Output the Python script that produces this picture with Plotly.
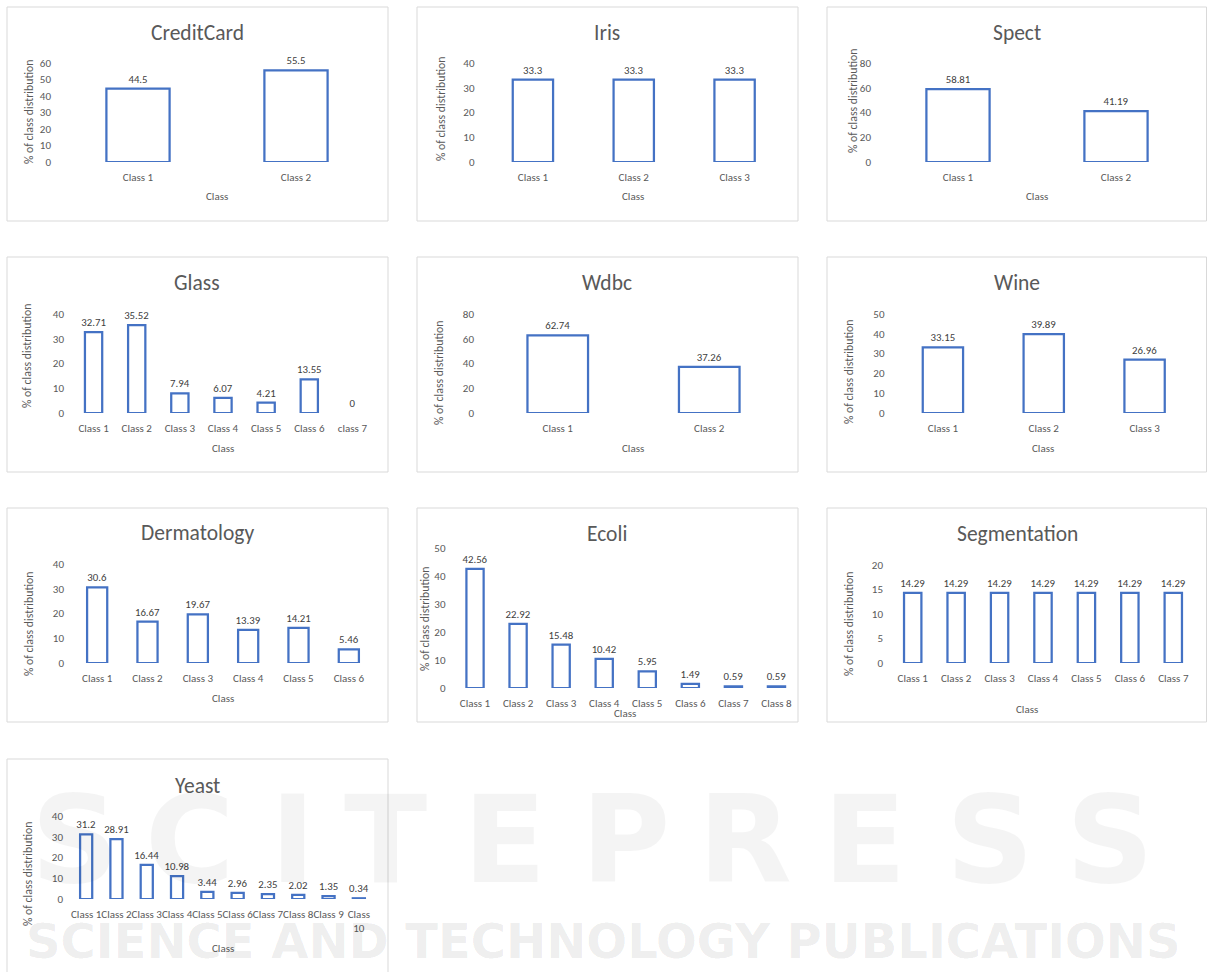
import plotly.graph_objects as go

W, H = 1207, 972

# ---------------- data: % of class distribution per dataset ----------------
creditcard_classes = ["Class 1", "Class 2"]
creditcard_pct = [44.5, 55.5]

iris_classes = ["Class 1", "Class 2", "Class 3"]
iris_pct = [33.3, 33.3, 33.3]

spect_classes = ["Class 1", "Class 2"]
spect_pct = [58.81, 41.19]

glass_classes = ["Class 1", "Class 2", "Class 3", "Class 4", "Class 5", "Class 6", "class 7"]
glass_pct = [32.71, 35.52, 7.94, 6.07, 4.21, 13.55, 0]

wdbc_classes = ["Class 1", "Class 2"]
wdbc_pct = [62.74, 37.26]

wine_classes = ["Class 1", "Class 2", "Class 3"]
wine_pct = [33.15, 39.89, 26.96]

dermatology_classes = ["Class 1", "Class 2", "Class 3", "Class 4", "Class 5", "Class 6"]
dermatology_pct = [30.6, 16.67, 19.67, 13.39, 14.21, 5.46]

ecoli_classes = ["Class 1", "Class 2", "Class 3", "Class 4", "Class 5", "Class 6", "Class 7", "Class 8"]
ecoli_pct = [42.56, 22.92, 15.48, 10.42, 5.95, 1.49, 0.59, 0.59]

segmentation_classes = ["Class 1", "Class 2", "Class 3", "Class 4", "Class 5", "Class 6", "Class 7"]
segmentation_pct = [14.29, 14.29, 14.29, 14.29, 14.29, 14.29, 14.29]

yeast_classes = ["Class 1", "Class 2", "Class 3", "Class 4", "Class 5",
                 "Class 6", "Class 7", "Class 8", "Class 9", "Class 10"]
yeast_tick_labels = ["Class 1", "Class 2", "Class 3", "Class 4", "Class 5",
                     "Class 6", "Class 7", "Class 8", "Class 9", "Class<br>10"]
yeast_pct = [31.2, 28.91, 16.44, 10.98, 3.44, 2.96, 2.35, 2.02, 1.35, 0.34]

# y-axis scale per chart: (max, step)
y_scales = {
    "CreditCard": (60, 10), "Iris": (40, 10), "Spect": (80, 20),
    "Glass": (40, 10), "Wdbc": (80, 20), "Wine": (50, 10),
    "Dermatology": (40, 10), "Ecoli": (50, 10), "Segmentation": (20, 5),
    "Yeast": (40, 10),
}

datasets = [
    ("CreditCard", creditcard_classes, creditcard_pct, creditcard_classes),
    ("Iris", iris_classes, iris_pct, iris_classes),
    ("Spect", spect_classes, spect_pct, spect_classes),
    ("Glass", glass_classes, glass_pct, glass_classes),
    ("Wdbc", wdbc_classes, wdbc_pct, wdbc_classes),
    ("Wine", wine_classes, wine_pct, wine_classes),
    ("Dermatology", dermatology_classes, dermatology_pct, dermatology_classes),
    ("Ecoli", ecoli_classes, ecoli_pct, ecoli_classes),
    ("Segmentation", segmentation_classes, segmentation_pct, segmentation_classes),
    ("Yeast", yeast_classes, yeast_pct, yeast_tick_labels),
]

# ---------------- panel geometry (pixels) ----------------
# box: chart frame; plot: x extent of the category axis; base/top: pixel rows
# of y=0 and y=max; title / ytitle / xtitle: label centres
panels = {
    "CreditCard": dict(box=(7, 7, 388, 221), plot=(59, 375), base=162, top=63,
                       title=(197, 33), ytitle=(29, 112), xtitle=(217, 197)),
    "Iris": dict(box=(417, 7, 798, 221), plot=(482.5, 785), base=162, top=63,
                 title=(607, 33), ytitle=(441, 109), xtitle=(633, 197)),
    "Spect": dict(box=(827, 7, 1206.5, 221), plot=(879, 1195), base=162, top=63,
                  title=(1017, 33), ytitle=(853, 101), xtitle=(1037, 197)),
    "Glass": dict(box=(7, 257, 388, 472), plot=(72, 374), base=413, top=314,
                  title=(197, 283), ytitle=(27, 356), xtitle=(223, 448)),
    "Wdbc": dict(box=(417, 257, 798, 472), plot=(482, 785), base=413, top=314,
                 title=(607, 283), ytitle=(439, 373), xtitle=(633, 448)),
    "Wine": dict(box=(827, 257, 1206.5, 472), plot=(892.5, 1195), base=413, top=314,
                 title=(1017, 283), ytitle=(849, 372), xtitle=(1043, 448)),
    "Dermatology": dict(box=(7, 508, 388, 722), plot=(72, 374), base=663, top=564,
                        title=(197, 533), ytitle=(29, 624), xtitle=(223, 698)),
    "Ecoli": dict(box=(417, 508, 798, 722), plot=(453.5, 798), base=688, top=548,
                  title=(607, 534), ytitle=(425, 619), xtitle=(625, 713)),
    "Segmentation": dict(box=(827, 508, 1206.5, 722), plot=(891, 1195), base=663, top=565,
                         title=(1017, 534), ytitle=(849, 624), xtitle=(1027, 709)),
    "Yeast": dict(box=(7, 759, 388, 990), plot=(71, 374), base=899, top=816,
                  title=(197, 786), ytitle=(28, 874), xtitle=(223, 948)),
}

FONT = "Calibri, Carlito, Lato, sans-serif"
GREY = "#595959"
LABEL = "#404040"
BLUE = "#4472C4"
FRAME = "#D9D9D9"


def fx(x):
    return x / W


def fy(y):
    return 1 - y / H


fig = go.Figure()
shapes, annotations = [], []

for i, (name, cats, vals, ticklabels) in enumerate(datasets, start=1):
    g = panels[name]
    ymax, step = y_scales[name]
    sfx = "" if i == 1 else str(i)

    fig.add_trace(go.Bar(
        x=cats, y=vals,
        xaxis="x" + sfx, yaxis="y" + sfx,
        # empty classes get no outline
        marker=dict(color="white",
                    line=dict(color=BLUE, width=[2.25 if v > 0 else 0 for v in vals])),
        texttemplate="%{y}", textposition="outside", textangle=0,
        constraintext="none", cliponaxis=False,
        textfont=dict(family=FONT, size=10.8, color=LABEL),
        hoverinfo="skip",
    ))

    fig.layout["xaxis" + sfx] = dict(
        domain=[fx(g["plot"][0]), fx(g["plot"][1])], anchor="y" + sfx,
        type="category", range=[-0.5, len(cats) - 0.5],
        tickvals=cats, ticktext=ticklabels, automargin=False,
        showgrid=False, showline=False, zeroline=False, ticks="",
        tickfont=dict(family=FONT, size=11, color=GREY), tickangle=0,
        ticklabelstandoff=7, fixedrange=True,
    )
    fig.layout["yaxis" + sfx] = dict(
        domain=[fy(g["base"]), fy(g["top"])], anchor="x" + sfx,
        range=[0, ymax], tick0=0, dtick=step, automargin=False,
        showgrid=False, showline=False, zeroline=False, ticks="",
        tickfont=dict(family=FONT, size=11, color=GREY),
        ticklabelstandoff=7, fixedrange=True,
    )

    x0, y0, x1, y1 = g["box"]
    shapes.append(dict(type="rect", xref="paper", yref="paper",
                       x0=fx(x0), x1=fx(x1), y0=fy(y1), y1=fy(y0),
                       line=dict(color=FRAME, width=1), layer="below"))

    tx, ty = g["title"]
    annotations.append(dict(text=name, x=fx(tx), y=fy(ty), xref="paper", yref="paper",
                            showarrow=False, xanchor="center", yanchor="middle",
                            font=dict(family=FONT, size=21.5, color=GREY)))
    ax, ay = g["ytitle"]
    annotations.append(dict(text="% of class distribution", x=fx(ax), y=fy(ay),
                            xref="paper", yref="paper", showarrow=False,
                            textangle=-90, xanchor="center", yanchor="middle",
                            font=dict(family=FONT, size=11.8, color=GREY)))
    cx, cy = g["xtitle"]
    annotations.append(dict(text="Class", x=fx(cx), y=fy(cy), xref="paper", yref="paper",
                            showarrow=False, xanchor="center", yanchor="middle",
                            font=dict(family=FONT, size=11, color=GREY)))

# publisher watermark across the lower part of the page
mark_letters = ["S", "C", "I", "T", "E", "P", "R", "E", "S", "S"]
mark_centres = [75, 190, 292, 385, 505, 625, 745, 865, 990, 1110]
for ch, mx in zip(mark_letters, mark_centres):
    annotations.append(dict(text="<b>" + ch + "</b>", x=fx(mx), y=fy(840), xref="paper",
                            yref="paper", showarrow=False, xanchor="center",
                            yanchor="middle",
                            font=dict(family="DejaVu Sans", size=122,
                                      color="rgba(0,0,0,0.045)")))
annotations.append(dict(text="<b>SCIENCE AND TECHNOLOGY PUBLICATIONS</b>", x=fx(603),
                        y=fy(941), xref="paper", yref="paper", showarrow=False,
                        xanchor="center", yanchor="middle",
                        font=dict(family="DejaVu Sans", size=48, color="rgba(0,0,0,0.08)")))

fig.update_layout(
    width=W, height=H, autosize=False,
    margin=dict(l=0, r=0, t=0, b=0, autoexpand=False),
    paper_bgcolor="white", plot_bgcolor="white",
    showlegend=False, bargap=0.6,
    shapes=shapes, annotations=annotations,
)

fig.write_html("out.html")
